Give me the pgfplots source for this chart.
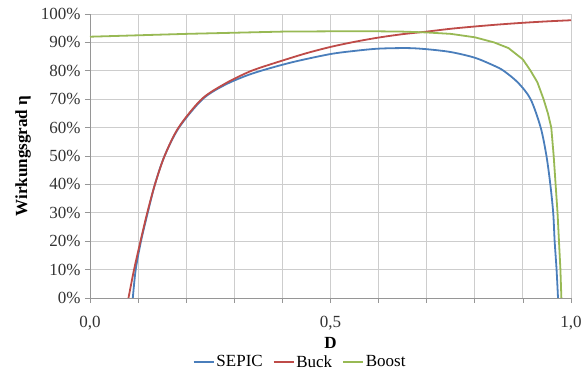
\documentclass[border=0pt]{standalone}
\usepackage{fontspec}
\setmainfont{Liberation Serif}
\usepackage{pgfplots}
\pgfplotsset{compat=1.18}

\definecolor{sepic}{RGB}{74,126,187}
\definecolor{buck}{RGB}{190,75,72}
\definecolor{boost}{RGB}{152,185,84}
\definecolor{gridc}{RGB}{205,205,205}
\definecolor{axc}{RGB}{150,150,150}

\begin{document}
\begin{tikzpicture}
\begin{axis}[
  scale only axis, width=481pt, height=284pt,
  xmin=0, xmax=1, ymin=0, ymax=100,
  axis lines=left, axis line style={-, axc, line width=0.8pt},
  xtick={0,0.1,0.2,0.3,0.4,0.5,0.6,0.7,0.8,0.9,1.0},
  xticklabels={0{,}0,,,,,0{,}5,,,,,1{,}0},
  ytick={0,10,20,30,40,50,60,70,80,90,100},
  yticklabels={0\%,10\%,20\%,30\%,40\%,50\%,60\%,70\%,80\%,90\%,100\%},
  tick align=outside, major tick length=5pt,
  tick style={axc, line width=0.8pt},
  grid=major, grid style={gridc, line width=0.9pt},
  ticklabel style={font=\fontsize{17}{19}\selectfont, text=black!80},
  xticklabel style={yshift=-10pt},
  yticklabel style={xshift=-1pt},
  xlabel={\bfseries D}, ylabel={\bfseries Wirkungsgrad η},
  label style={font=\fontsize{17}{19}\selectfont},
  xlabel style={at={(axis description cs:0.5,-0.158)}, anchor=center},
  ylabel style={yshift=3pt},
  legend columns=3,
  legend style={at={(0.437,-0.225)}, anchor=center, draw=none, fill=none,
    font=\fontsize{17}{19}\selectfont, /tikz/every even column/.append style={column sep=8pt}},
  legend image code/.code={\draw[#1, line width=1.6pt] (0pt,0pt) -- (20pt,0pt);},
  clip=true,
]
\addplot[sepic, line width=1.8pt, smooth] coordinates {
(0.089,0) (0.095,10) (0.106,20) (0.120,30) (0.135,40) (0.155,50) (0.185,60) (0.234,70)
(0.280,75.0) (0.330,78.6) (0.380,81.2) (0.430,83.4) (0.500,85.9) (0.550,87.0) (0.600,87.8)
(0.660,88.0) (0.700,87.6) (0.750,86.6) (0.800,84.6) (0.840,81.8) (0.860,80.0) (0.890,75.8)
(0.916,70) (0.937,60) (0.949,50) (0.957,40) (0.963,30) (0.966,20) (0.970,10) (0.973,0)
};
\addlegendentry{SEPIC}
\addplot[buck, line width=1.8pt, smooth] coordinates {
(0.080,0) (0.0916,10) (0.105,20) (0.119,30) (0.135,40) (0.155,50) (0.184,60) (0.232,70)
(0.280,75.4) (0.326,79.3) (0.354,81.1) (0.400,83.6) (0.450,86.2) (0.500,88.4) (0.550,90.2)
(0.600,91.7) (0.650,92.9) (0.700,93.8) (0.750,94.8) (0.800,95.6) (0.850,96.3) (0.900,96.9)
(0.950,97.4) (1.000,97.8)
};
\addlegendentry{Buck}
\addplot[boost, line width=1.8pt] coordinates {
(0.000,92.0) (0.100,92.5) (0.200,93.0) (0.300,93.4) (0.400,93.8) (0.500,93.9) (0.600,93.9)
(0.650,93.8) (0.700,93.5) (0.750,93.0) (0.800,91.8) (0.840,90.0) (0.870,88.0) (0.900,84.0)
(0.916,80.0) (0.930,76.0) (0.943,70.0) (0.952,65.0) (0.959,60.0) (0.964,50.0) (0.968,40.0)
(0.972,30.0) (0.975,20.0) (0.978,10.0) (0.980,0.0)
};
\addlegendentry{Boost}
\end{axis}
\pgfresetboundingbox
\path (-90pt,-76pt) rectangle (497pt,298pt);
\end{tikzpicture}
\end{document}
